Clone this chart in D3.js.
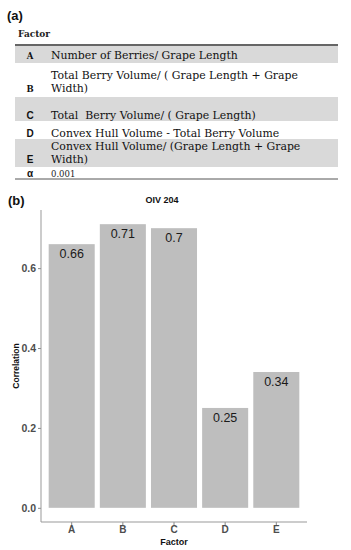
<!DOCTYPE html>
<html>
<head>
<meta charset="utf-8">
<script src="https://cdn.jsdelivr.net/npm/d3@7"></script>
<style>
  html, body { margin: 0; padding: 0; background: #fff; }
  svg { display: block; }
</style>
</head>
<body>
<svg id="fig" width="351" height="550"></svg>
<script>
// ---------- data ----------
const factors = ["A", "B", "C", "D", "E"];
const factorDescriptions = [
  ["Number of Berries/ Grape Length"],
  ["Total Berry Volume/ ( Grape Length + Grape", "Width)"],
  ["Total  Berry Volume/ ( Grape Length)"],
  ["Convex Hull Volume - Total Berry Volume"],
  ["Convex Hull Volume/ (Grape Length + Grape", "Width)"]
];
const alphaSymbol = "α";
const alphaValue = "0.001";
const correlations = [0.66, 0.71, 0.70, 0.25, 0.34];
const yTickValues = [0, 0.2, 0.4, 0.6];
const chartTitle = "OIV 204";
const xAxisTitle = "Factor";
const yAxisTitle = "Correlation";
const tableHeader = "Factor";
const panelLabels = ["(a)", "(b)"];

// ---------- drawing ----------
const svg = d3.select("#fig");
const sans = "Liberation Sans, Arial, sans-serif";
const serif = "DejaVu Serif, serif";

// panel labels
svg.append("text").attr("x", 7).attr("y", 20).text(panelLabels[0])
  .attr("font-family", sans).attr("font-weight", "bold").attr("font-size", 13).attr("fill", "#111");

// ---- table (a) ----
const tLeft = 15, tRight = 338;
svg.append("text").attr("x", 18).attr("y", 37).text(tableHeader)
  .attr("font-family", serif).attr("font-weight", "bold").attr("font-size", 9).attr("fill", "#222");

// row geometry
const rowTops = [46, 63, 97, 121, 139];
const rowBottoms = [63, 97, 121, 139, 167];
const rowBaselines = [[59], [79, 92], [119], [137], [150, 163]];
const shaded = [true, false, true, false, true];

factors.forEach((f, i) => {
  if (shaded[i]) {
    svg.append("rect").attr("x", tLeft).attr("y", rowTops[i])
      .attr("width", tRight - tLeft).attr("height", rowBottoms[i] - rowTops[i])
      .attr("fill", "#d9d9d9");
  }
  const lines = factorDescriptions[i];
  const lastBase = rowBaselines[i][rowBaselines[i].length - 1];
  const isSerifLetter = i < 2;
  svg.append("text").attr("x", 30).attr("y", lastBase).text(f)
    .attr("text-anchor", "middle")
    .attr("font-family", isSerifLetter ? serif : sans)
    .attr("font-weight", "bold")
    .attr("font-size", isSerifLetter ? 8.5 : 10)
    .attr("fill", "#111");
  lines.forEach((ln, j) => {
    svg.append("text").attr("x", 51).attr("y", rowBaselines[i][j]).text(ln)
      .attr("font-family", serif).attr("font-size", 10.9)
      .style("white-space", "pre")
      .attr("fill", "#111");
  });
});
// alpha row
svg.append("text").attr("x", 30).attr("y", 177).text(alphaSymbol)
  .attr("text-anchor", "middle").attr("font-family", sans).attr("font-weight", "bold")
  .attr("font-size", 10).attr("fill", "#111");
svg.append("text").attr("x", 51).attr("y", 177).text(alphaValue)
  .attr("font-family", serif).attr("font-size", 8.5).attr("fill", "#222");
// rules
svg.append("line").attr("x1", tLeft).attr("x2", tRight).attr("y1", 45).attr("y2", 45)
  .attr("stroke", "#333").attr("stroke-width", 1.5);
svg.append("line").attr("x1", tLeft).attr("x2", tRight).attr("y1", 179).attr("y2", 179)
  .attr("stroke", "#555").attr("stroke-width", 1);

// ---- bar chart (b) ----
svg.append("text").attr("x", 8).attr("y", 205).text(panelLabels[1])
  .attr("font-family", sans).attr("font-weight", "bold").attr("font-size", 13).attr("fill", "#111");

const pLeft = 41, pRight = 307, pTop = 210, pBottom = 522;
const maxV = d3.max(correlations);
const yMin = -0.05 * maxV, yMax = maxV * 1.05;
const y = d3.scaleLinear().domain([yMin, yMax]).range([pBottom, pTop]);
const x = d3.scaleBand().domain(factors).range([pLeft, pRight])
  .paddingInner(0.1).paddingOuter(0.15);

svg.append("text").attr("x", 162).attr("y", 203).text(chartTitle)
  .attr("text-anchor", "middle").attr("font-family", sans).attr("font-weight", "bold")
  .attr("font-size", 9).attr("fill", "#111");

const bars = svg.append("g");
bars.selectAll("rect").data(correlations).join("rect")
  .attr("x", (d, i) => x(factors[i]))
  .attr("width", x.bandwidth())
  .attr("y", d => y(d))
  .attr("height", d => y(0) - y(d))
  .attr("fill", "#bebebe");

bars.selectAll("text").data(correlations).join("text")
  .attr("x", (d, i) => x(factors[i]) + x.bandwidth() / 2)
  .attr("y", d => y(d) + 14)
  .attr("text-anchor", "middle")
  .attr("font-family", sans).attr("font-size", 12.5).attr("fill", "#1a1a1a")
  .text(d => String(d));

// axes
const yAxis = d3.axisLeft(y).tickValues(yTickValues).tickSize(3).tickPadding(2)
  .tickFormat(d3.format(".1f"));
const gy = svg.append("g").attr("transform", `translate(${pLeft},0)`).call(yAxis);
gy.select(".domain").remove();
gy.selectAll(".tick line").attr("stroke", "#888");
gy.selectAll(".tick text").attr("font-family", sans).attr("font-weight", "bold")
  .attr("font-size", 10.5).attr("fill", "#4d4d4d");
svg.append("line").attr("x1", pLeft).attr("x2", pLeft).attr("y1", pTop).attr("y2", pBottom)
  .attr("stroke", "#999").attr("stroke-width", 1);

const xAxis = d3.axisBottom(x).tickSize(3).tickPadding(1);
const gx = svg.append("g").attr("transform", `translate(0,${pBottom})`).call(xAxis);
gx.select(".domain").remove();
gx.selectAll(".tick line").attr("stroke", "#888");
gx.selectAll(".tick text").attr("font-family", sans).attr("font-weight", "bold")
  .attr("font-size", 10).attr("fill", "#4d4d4d");
svg.append("line").attr("x1", pLeft).attr("x2", pRight).attr("y1", pBottom).attr("y2", pBottom)
  .attr("stroke", "#999").attr("stroke-width", 1);

svg.append("text").attr("x", (pLeft + pRight) / 2).attr("y", 545).text(xAxisTitle)
  .attr("text-anchor", "middle").attr("font-family", sans).attr("font-weight", "bold")
  .attr("font-size", 9).attr("fill", "#111");
svg.append("text")
  .attr("transform", `translate(19,${(pTop + pBottom) / 2}) rotate(-90)`)
  .text(yAxisTitle).attr("text-anchor", "middle").attr("font-family", sans)
  .attr("font-weight", "bold").attr("font-size", 8.5).attr("fill", "#111");
</script>
</body>
</html>
